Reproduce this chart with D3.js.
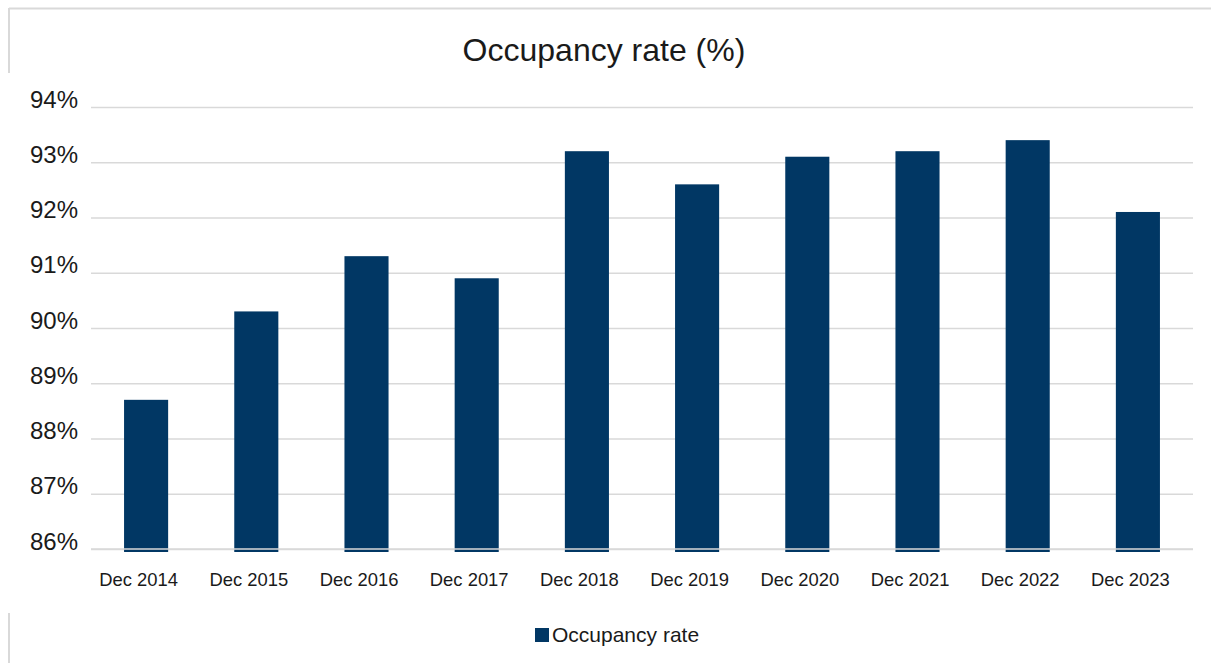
<!DOCTYPE html>
<html>
<head>
<meta charset="utf-8">
<script src="https://cdn.jsdelivr.net/npm/d3@7"></script>
<style>
  html, body { margin: 0; padding: 0; background: #fff; }
  svg { display: block; font-family: "Liberation Sans", Arial, sans-serif; }
</style>
</head>
<body>
<svg id="chart" width="1211" height="663"></svg>
<script>
const categories = ["Dec 2014", "Dec 2015", "Dec 2016", "Dec 2017", "Dec 2018", "Dec 2019", "Dec 2020", "Dec 2021", "Dec 2022", "Dec 2023"];
const occupancy = [88.7, 90.3, 91.3, 90.9, 93.2, 92.6, 93.1, 93.2, 93.4, 92.1];
const yTicks = [86, 87, 88, 89, 90, 91, 92, 93, 94];
const seriesName = "Occupancy rate";
const title = "Occupancy rate (%)";

const svg = d3.select("#chart");
const W = 1211, H = 663;
const plot = { left: 91, right: 1193, top: 107, bottom: 549 };
const barColor = "#013764";
const gridColor = "#d9d9d9";

// frame lines (partial border)
svg.append("line").attr("x1", 9).attr("x2", W).attr("y1", 8.5).attr("y2", 8.5)
  .attr("stroke", gridColor).attr("stroke-width", 2);
svg.append("line").attr("x1", 9).attr("x2", 9).attr("y1", 8).attr("y2", 73)
  .attr("stroke", gridColor).attr("stroke-width", 2);
svg.append("line").attr("x1", 9).attr("x2", 9).attr("y1", 613).attr("y2", H)
  .attr("stroke", gridColor).attr("stroke-width", 2);

const x = d3.scaleBand().domain(categories).range([plot.left, plot.right])
  .paddingInner(0.6).paddingOuter(0.3);
const y = d3.scaleLinear().domain([86, 94]).range([plot.bottom, plot.top]);

// gridlines
const yAxis = d3.axisLeft(y).tickValues(yTicks).tickFormat(d => d + "%")
  .tickSize(-(plot.right - plot.left)).tickPadding(13);
const gy = svg.append("g").attr("transform", `translate(${plot.left},0)`).call(yAxis);
gy.select(".domain").remove();
gy.selectAll(".tick line").attr("stroke", gridColor).attr("stroke-width", 1.5);
gy.selectAll(".tick text").attr("font-size", 24).attr("fill", "#1a1a1a")
  .attr("font-family", "'Liberation Sans', Arial, sans-serif").attr("dy", "0");

// bars
svg.append("g").selectAll("rect").data(categories).join("rect")
  .attr("x", d => x(d))
  .attr("width", x.bandwidth())
  .attr("y", (d, i) => y(occupancy[i]))
  .attr("height", (d, i) => y(86) - y(occupancy[i]) + 3)
  .attr("fill", barColor);

// baseline drawn over bars
svg.append("line").attr("x1", plot.left).attr("x2", plot.right)
  .attr("y1", y(86)).attr("y2", y(86))
  .attr("stroke", gridColor).attr("stroke-width", 1.5);

// x axis labels
const xAxis = d3.axisBottom(x).tickSize(0).tickPadding(0);
const gx = svg.append("g").attr("transform", `translate(-7.5,${plot.bottom})`).call(xAxis);
gx.select(".domain").remove();
gx.selectAll(".tick text").attr("font-size", 18.4).attr("fill", "#1a1a1a")
  .attr("font-family", "'Liberation Sans', Arial, sans-serif")
  .attr("y", 37).attr("dy", "0");

// title
svg.append("text").attr("x", 604).attr("y", 61).attr("text-anchor", "middle")
  .attr("font-size", 32).attr("fill", "#1a1a1a").text(title);

// legend
svg.append("rect").attr("x", 535).attr("y", 628).attr("width", 14).attr("height", 14).attr("fill", barColor);
svg.append("text").attr("x", 552).attr("y", 642).attr("font-size", 21).attr("fill", "#1a1a1a").text(seriesName);
</script>
</body>
</html>
